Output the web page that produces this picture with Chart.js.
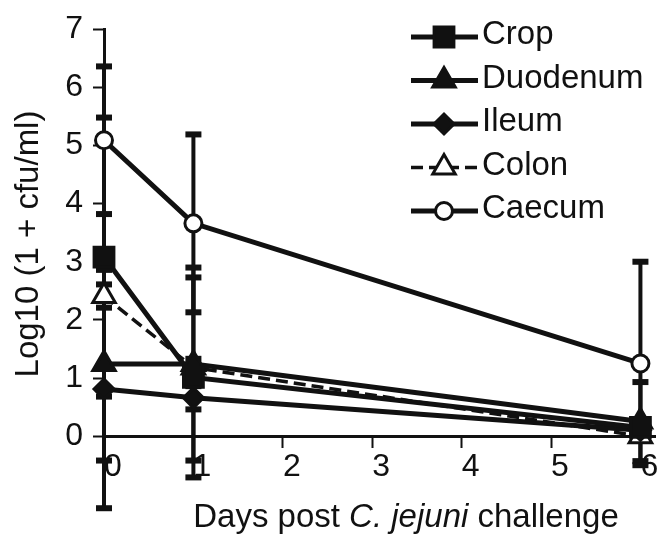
<!DOCTYPE html>
<html>
<head>
<meta charset="utf-8">
<script src="https://cdn.jsdelivr.net/npm/chart.js@4.4.0/dist/chart.umd.min.js"></script>
<style>
  html, body { margin: 0; padding: 0; background: #fff; }
  #wrap { width: 672px; height: 538px; position: relative; }
</style>
</head>
<body>
<div id="wrap"><canvas id="myChart"></canvas></div>
<script>
// values (log10 cfu/ml)
const days = [0, 1, 6];
const xTicks = [0, 1, 2, 3, 4, 5, 6];
const yTicks = [0, 1, 2, 3, 4, 5, 6, 7];
const seriesNames = ['Crop', 'Duodenum', 'Ileum', 'Colon', 'Caecum'];

const crop = [3.08, 1.01, 0.15];
const cropErr = [2.4, 1.72, 0.1];
const duodenum = [1.24, 1.24, 0.25];
const duodenumErr = [1.66, 1.66, 0.68];
const ileum = [0.81, 0.66, 0.1];
const ileumErr = [2.05, 0.2, 0.1];
const colon = [2.41, 1.18, 0.0];
const colonErr = [0.2, 0.15, 0.05];
const caecum = [5.09, 3.66, 1.25];
const caecumErr = [1.27, 1.53, 1.75];

const FONT = '"Liberation Sans", Arial, sans-serif';
const INK = '#111';

const seriesValues = [crop, duodenum, ileum, colon, caecum];
const seriesErrors = [cropErr, duodenumErr, ileumErr, colonErr, caecumErr];

// marker / line look per series
const looks = [
  { pointStyle: 'rect', radius: 14, fill: INK, dash: [], width: 5 },
  { pointStyle: 'triangle', radius: 13, fill: INK, dash: [], width: 5 },
  { pointStyle: 'rectRot', radius: 10, fill: INK, dash: [], width: 5 },
  { pointStyle: 'triangle', radius: 13, fill: '#fff', dash: [12, 6], width: 3.5 },
  { pointStyle: 'circle', radius: 8.5, fill: '#fff', dash: [], width: 5 }
];

const datasets = seriesNames.map((name, i) => ({
  label: name,
  data: days.map((d, j) => ({ x: d, y: seriesValues[i][j] })),
  borderColor: INK,
  borderWidth: looks[i].width,
  borderDash: looks[i].dash,
  backgroundColor: looks[i].fill,
  pointStyle: looks[i].pointStyle,
  pointRadius: looks[i].radius,
  pointBorderWidth: 3,
  pointBorderColor: INK,
  pointBackgroundColor: looks[i].fill,
  tension: 0,
  fill: false,
  clip: false
}));

const errorBars = {
  id: 'errorBars',
  beforeDatasetsDraw(chart) {
    const ctx = chart.ctx, xs = chart.scales.x, ys = chart.scales.y;
    ctx.save();
    ctx.strokeStyle = INK;
    ctx.fillStyle = INK;
    ctx.lineWidth = 4;
    ctx.setLineDash([]);
    seriesValues.forEach((vals, i) => {
      vals.forEach((v, j) => {
        const e = seriesErrors[i][j];
        const x = xs.getPixelForValue(days[j]);
        const top = ys.getPixelForValue(v + e);
        const bot = ys.getPixelForValue(v - e);
        ctx.beginPath();
        ctx.moveTo(x, top);
        ctx.lineTo(x, bot);
        ctx.stroke();
        ctx.fillRect(x - 8, top - 3, 16, 6);
        ctx.fillRect(x - 8, bot - 3, 16, 6);
      });
    });
    ctx.restore();
  }
};

const legendAndTitles = {
  id: 'legendAndTitles',
  afterDraw(chart) {
    const ctx = chart.ctx;
    ctx.save();
    // legend
    seriesNames.forEach((name, i) => {
      const y = 37 + i * 43.5;
      ctx.strokeStyle = INK;
      ctx.lineWidth = looks[i].width;
      ctx.setLineDash(looks[i].dash);
      ctx.beginPath();
      ctx.moveTo(411, y);
      ctx.lineTo(478, y);
      ctx.stroke();
      ctx.setLineDash([]);
      ctx.fillStyle = looks[i].fill;
      ctx.lineWidth = 3;
      Chart.helpers.drawPoint(ctx, { pointStyle: looks[i].pointStyle, radius: looks[i].radius, rotation: 0, borderWidth: 3 }, 444, y);
      ctx.fillStyle = INK;
      ctx.font = '33px ' + FONT;
      ctx.textAlign = 'left';
      ctx.textBaseline = 'middle';
      ctx.fillText(name, 482, y - 2);
    });
    // x title with italic species name
    const parts = [['Days post ', ''], ['C. jejuni', 'italic '], [' challenge', '']];
    let total = 0;
    parts.forEach(p => { ctx.font = p[1] + '33px ' + FONT; total += ctx.measureText(p[0]).width; });
    let x = 406 - total / 2;
    ctx.textAlign = 'left';
    ctx.textBaseline = 'alphabetic';
    parts.forEach(p => {
      ctx.font = p[1] + '33px ' + FONT;
      ctx.fillText(p[0], x, 527);
      x += ctx.measureText(p[0]).width;
    });
    // y title
    ctx.translate(29, 244);
    ctx.rotate(-Math.PI / 2);
    ctx.font = '33px ' + FONT;
    ctx.textAlign = 'center';
    ctx.textBaseline = 'middle';
    ctx.fillText('Log10 (1 + cfu/ml)', 0, 0);
    ctx.restore();
  }
};

const ctx = document.getElementById('myChart');

new Chart(ctx, {
  type: 'line',
  data: { datasets: datasets },
  plugins: [errorBars, legendAndTitles],
  options: {
    responsive: true,
    maintainAspectRatio: false,
    animation: false,
    layout: { padding: { top: 27, right: 0, bottom: 26, left: 0 } },
    plugins: { legend: { display: false }, tooltip: { enabled: false } },
    scales: {
      x: {
        type: 'linear',
        min: 0,
        max: 6.163,
        position: { y: 0 },
        afterBuildTicks: axis => { axis.ticks = xTicks.map(v => ({ value: v })); },
        grid: { drawOnChartArea: false, tickLength: 10, tickWidth: 2, color: INK },
        border: { color: INK, width: 3 },
        ticks: { color: INK, font: { family: FONT, size: 32 }, padding: 2, labelOffset: 9, autoSkip: false, maxRotation: 0 }
      },
      y: {
        min: -1.25,
        max: 7,
        afterBuildTicks: axis => { axis.ticks = yTicks.map(v => ({ value: v })); },
        afterFit: axis => { axis.width = 104; },
        grid: { drawOnChartArea: false, tickLength: 11, tickWidth: 2, color: INK },
        border: { color: INK, width: 3 },
        ticks: { color: INK, font: { family: FONT, size: 32 }, padding: 10, autoSkip: false }
      }
    }
  }
});
</script>
</body>
</html>
